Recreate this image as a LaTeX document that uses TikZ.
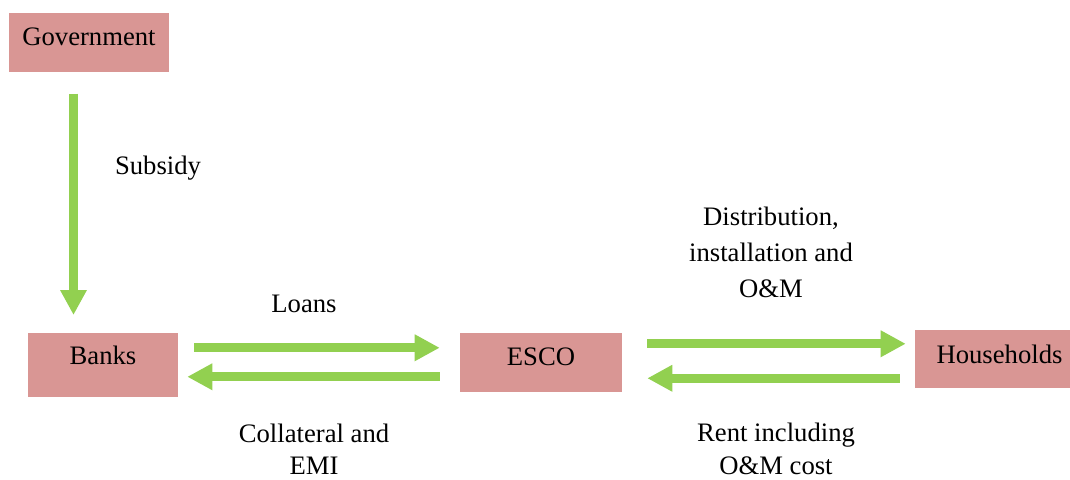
\documentclass[tikz,border=0pt]{standalone}
\usepackage{fontspec}
\setmainfont{Liberation Serif}
\usetikzlibrary{arrows.meta}
\definecolor{boxfill}{RGB}{217,150,148}
\definecolor{flowgreen}{RGB}{146,208,80}
\begin{document}
\begin{tikzpicture}[x=0.75pt,y=-0.75pt,
  every node/.style={font=\fontsize{20}{27}\selectfont},
  party/.style={fill=boxfill, draw=none, inner sep=0pt, anchor=north, align=center},
  lbl/.style={align=center},
  flow/.style={draw=flowgreen, line width=6.75pt,
    -{Triangle[length=18.75pt,width=18.75pt,fill=flowgreen]}}]
\useasboundingbox (0,0) rectangle (1070,479);

% actors
\node[party, minimum width=120pt, text height=24pt, text depth=20.25pt] (gov) at (89,13) {Government};
\node[party, minimum width=112.5pt, text height=23.25pt, text depth=24.75pt] (banks) at (103,333) {Banks};
\node[party, minimum width=121.5pt, text height=24pt, text depth=20.25pt] (esco) at (541,333) {ESCO};
\node[party, minimum width=126.75pt, text height=24.75pt, text depth=18.75pt] (hh) at (999.5,330) {Households};

% flows
\draw[flow] ([xshift=-11.625pt,yshift=-15.75pt]gov.south) -- ([xshift=-22.125pt,yshift=13.5pt]banks.north);
\draw[flow] ([xshift=12pt,yshift=13.125pt]banks.east) -- ([xshift=-15pt,yshift=11.25pt]esco.west);
\draw[flow] ([xshift=-15pt,yshift=-10.5pt]esco.west) -- ([xshift=6.75pt,yshift=-8.625pt]banks.east);
\draw[flow] ([xshift=18.75pt,yshift=14.25pt]esco.east) -- ([xshift=-6.75pt,yshift=11.625pt]hh.west);
\draw[flow] ([xshift=-11.25pt,yshift=-14.25pt]hh.west) -- ([xshift=18.75pt,yshift=-11.625pt]esco.east);

% flow labels
\node[lbl] (subsidy) at (158,168) {Subsidy};
\node[lbl] (loans) at (304,304) {Loans};
\node[lbl, font=\fontsize{20}{24}\selectfont] (collat) at (314,449) {Collateral and\\EMI};
\node[lbl] (distr) at (771,252) {Distribution,\\installation and\\O\&M};
\node[lbl, inner sep=0pt, font=\fontsize{20}{24.75}\selectfont] (rent) at (776,449) {Rent including\\O\&M cost};
\end{tikzpicture}
\end{document}
